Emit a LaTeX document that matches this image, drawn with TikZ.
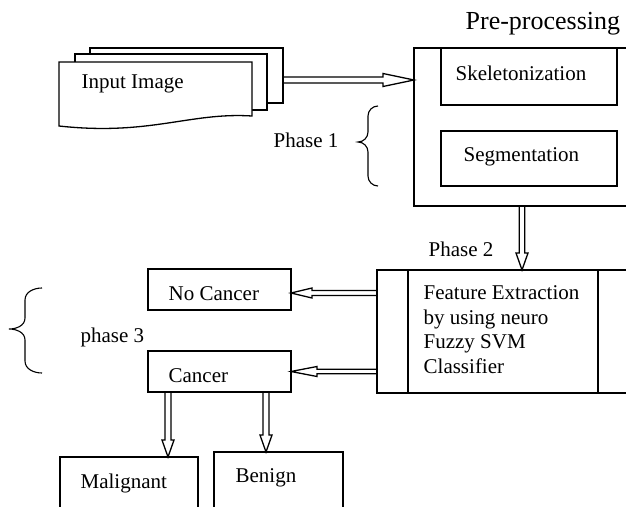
\documentclass[tikz,border=0pt]{standalone}
\usepackage{fontspec}
\setmainfont{Liberation Serif}
\usetikzlibrary{calc}
\begin{document}
\begin{tikzpicture}[x=1pt,y=-1pt,
  line width=1.3pt,
  box/.style={draw, fill=white, inner sep=0pt, outer sep=0pt, anchor=north west, line width=1.3pt},
  txt/.style={anchor=base west, inner sep=0pt, font=\fontsize{21}{25}\selectfont},
  fat/.style n args={3}{to path={
    ($(\tikztostart)!#2!90:(\tikztotarget)$) --
    ($(\tikztotarget)!#1!(\tikztostart)!#2!90:(\tikztotarget)$) --
    ($(\tikztotarget)!#1!(\tikztostart)!#3!90:(\tikztotarget)$) --
    (\tikztotarget) --
    ($(\tikztotarget)!#1!(\tikztostart)!#3!-90:(\tikztotarget)$) --
    ($(\tikztotarget)!#1!(\tikztostart)!#2!-90:(\tikztotarget)$) --
    ($(\tikztostart)!#2!-90:(\tikztotarget)$)
  }}]
\clip (0,0) rectangle (626,506);
\fill[white] (0,0) rectangle (626,506);

% input image stack
\node[box, minimum width=193pt, minimum height=55pt] (img3) at (90,48) {};
\node[box, minimum width=192pt, minimum height=56pt] (img2) at (75,54) {};
\draw[fill=white] (59,62) -- (252,62) -- (252,116)
  .. controls (190,112) and (150,136) .. (59,126) -- cycle;
\node[txt] (img) at (81,88) {Input Image};

% pre-processing
\node[anchor=base west, inner sep=0pt, font=\fontsize{26}{30}\selectfont] (pretitle) at (465,29) {Pre-processing};
\node[box, minimum width=240pt, minimum height=158pt] (pre) at (414,48) {};
\node[box, minimum width=176pt, minimum height=57pt] (skel) at (441,48) {};
\node[box, minimum width=176pt, minimum height=55pt] (seg) at (441,131) {};
\node[txt] (skelt) at (455,80) {Skeletonization};
\node[txt] (segt) at (463,161) {Segmentation};

% phase 1
\node[txt] (ph1) at (273,147) {Phase 1};
\draw[line width=1.1pt] (378,106) to[out=180,in=90] (368,116) -- (368,132)
  to[out=-90,in=0] (358,142) to[out=0,in=90] (368,152) -- (368,176)
  to[out=-90,in=180] (378,186);

\coordinate (ia) at ($(img3.east)+(0,4.5)$);
\draw (ia) to[fat={31pt}{3pt}{6.5pt}] (ia -| pre.west);

% feature extraction
\node[box, minimum width=280pt, minimum height=123pt] (feat) at (377,270) {};
\draw ($(feat.north west)+(31,0)$) -- ($(feat.south west)+(31,0)$);
\draw ($(feat.north west)+(221,0)$) -- ($(feat.south west)+(221,0)$);
\node[txt, align=left, anchor=north west, font=\fontsize{21}{24.7}\selectfont] (featt) at (423,285)
  {Feature Extraction\\by using neuro\\Fuzzy SVM\\Classifier};
\node[txt] (ph2) at (428,256) {Phase 2};

\coordinate (da) at ($(pre.south west)+(108,0)$);
\draw (da) to[fat={17pt}{2.8pt}{6pt}] (da |- feat.north);

% phase 3
\node[box, minimum width=143pt, minimum height=41pt] (nocan) at (148,269) {};
\node[txt] (nocant) at (168,300) {No Cancer};
\node[box, minimum width=143pt, minimum height=41pt] (can) at (148,351) {};
\node[txt] (cant) at (168,382) {Cancer};
\node[txt] (ph3) at (80,342) {phase 3};
\draw[line width=1.1pt] (42,288) to[out=180,in=90] (25,300) -- (25,318)
  to[out=-90,in=0] (9,329) to[out=0,in=90] (25,340) -- (25,361)
  to[out=-90,in=180] (42,373);

\coordinate (na) at ($(nocan.east)+(0,3.5)$);
\draw (na -| feat.west) to[fat={21pt}{2.5pt}{5pt}] (na);
\coordinate (ca) at ($(can.east)+(0,0)$);
\draw (ca -| feat.west) to[fat={26pt}{2.3pt}{5pt}] (ca);

\node[box, minimum width=138pt, minimum height=80pt] (mal) at (60,457) {};
\node[txt] (malt) at (80,488) {Malignant};
\node[box, minimum width=129pt, minimum height=80pt] (ben) at (214,452) {};
\node[txt] (bent) at (235,482) {Benign};

\coordinate (c1) at ($(can.south west)+(20,0)$);
\draw (c1) to[fat={17pt}{3pt}{6pt}] (c1 |- mal.north);
\coordinate (c2) at ($(can.south west)+(118,0)$);
\draw (c2) to[fat={17pt}{3pt}{6pt}] (c2 |- ben.north);
\end{tikzpicture}
\end{document}
